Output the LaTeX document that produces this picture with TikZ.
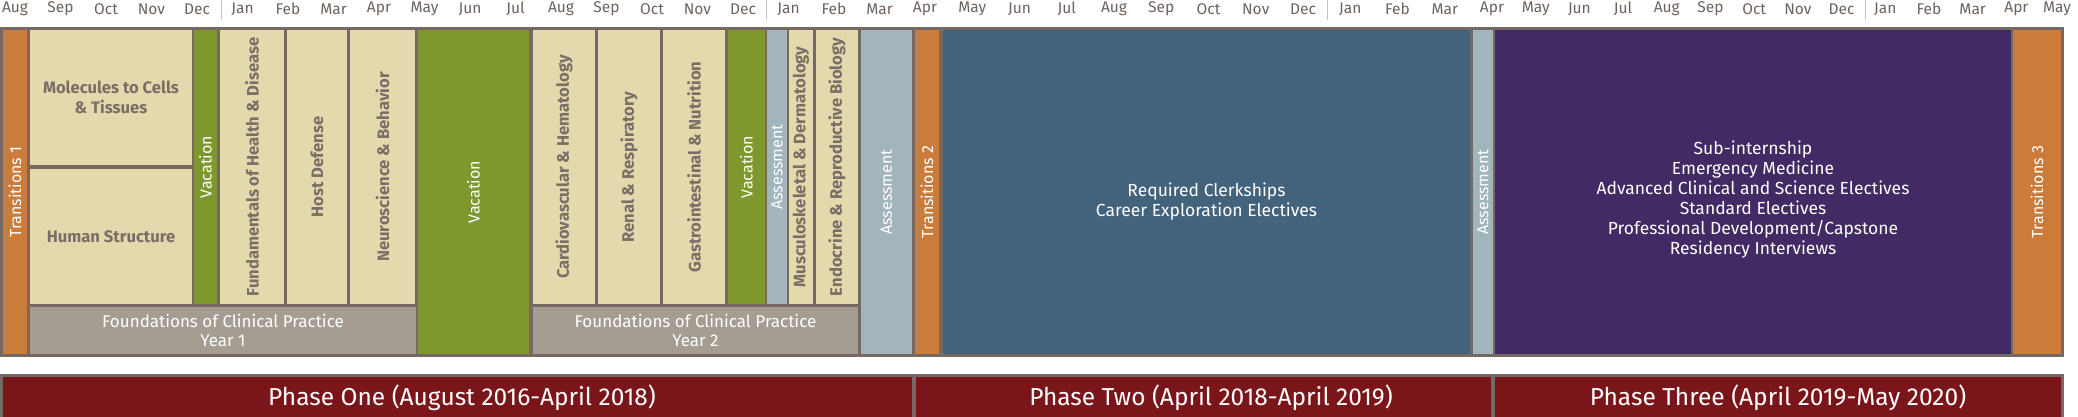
\documentclass[tikz,border=0pt]{standalone}
\usepackage{fontspec}
\setmainfont{Fira Sans}
\definecolor{framec}{HTML}{766862}
\definecolor{orangec}{HTML}{CC7C3A}
\definecolor{beigec}{HTML}{E2D9AC}
\definecolor{greenc}{HTML}{7E982E}
\definecolor{fgrey}{HTML}{A59D92}
\definecolor{assessc}{HTML}{A2B5BD}
\definecolor{bluec}{HTML}{43637C}
\definecolor{purplec}{HTML}{422A64}
\definecolor{redc}{HTML}{7A161A}
\definecolor{btext}{HTML}{7A6E66}
\definecolor{mgray}{HTML}{6E625C}
\definecolor{divc}{HTML}{C8C2BC}
\begin{document}
\begin{tikzpicture}[x=1pt,y=1pt,
  blk/.style={rectangle, inner sep=0pt, outer sep=0pt, align=center},
  vblk/.style={blk, rotate=90},
  btxt/.style={text=btext, font=\fontsize{16.6}{19.5}\selectfont\bfseries},
  wtxt/.style={text=white, font=\fontsize{16}{19}\selectfont},
  ftxt/.style={text=white, font=\fontsize{17}{19}\selectfont},
  wbig/.style={text=white, font=\fontsize{17.5}{20}\selectfont},
  phtxt/.style={text=white, font=\fontsize{24.5}{26}\selectfont},
  month/.style={text=mgray, font=\fontsize{15.5}{15.5}\selectfont, inner sep=0pt},
  divline/.style={draw=divc, line width=1pt}
]
\useasboundingbox (0,0) rectangle (2078,417);

% month labels
\foreach \m [count=\i from 0] in {Aug,Sep,Oct,Nov,Dec,Jan,Feb,Mar,Apr,May,Jun,Jul,Aug,Sep,Oct,Nov,Dec,Jan,Feb,Mar,Apr}
  {\node[month] (ma\i) at ({15+45.5*\i},408) {\m};}
\foreach \m [count=\i from 1] in {May,Jun,Jul,Aug,Sep,Oct,Nov,Dec,Jan,Feb,Mar,Apr}
  {\node[month] (mb\i) at ({925+47.25*\i},408) {\m};}
\foreach \m [count=\i from 1] in {May,Jun,Jul,Aug,Sep,Oct,Nov,Dec,Jan,Feb,Mar,Apr}
  {\node[month] (mc\i) at ({1492+43.7*\i},408) {\m};}
\node[month] (mc13) at (2057,408) {May};
\foreach \x in {221,766,1327,1865} {\draw[divline] (\x,397) -- (\x,417);}

% frame
\node[blk, fill=framec, minimum width=2064, minimum height=330] (frame) at (1032,225) {};

% Phase one blocks
\node[vblk, fill=orangec, minimum width=324, minimum height=24, wtxt] (t1) at (15,225) {Transitions 1};
\node[blk, fill=beigec, minimum width=162, minimum height=135, btxt] (mol) at (111,319.5) {Molecules to Cells\\\& Tissues};
\node[blk, fill=beigec, minimum width=162, minimum height=135, btxt] (hum) at (111,180.5) {Human Structure};
\node[vblk, fill=greenc, minimum width=274, minimum height=23, wtxt] (vac1) at (205.5,250) {Vacation};
\node[vblk, fill=beigec, minimum width=274, minimum height=64, btxt] (fund) at (252,250) {Fundamentals of Health \& Disease};
\node[vblk, fill=beigec, minimum width=274, minimum height=60, btxt] (host) at (317,250) {Host Defense};
\node[vblk, fill=beigec, minimum width=274, minimum height=65, btxt] (neuro) at (382.5,250) {Neuroscience \& Behavior};
\node[blk, fill=fgrey, minimum width=386, minimum height=47, ftxt] (fcp1) at (223,86.5) {Foundations of Clinical Practice\\Year 1};
\node[vblk, fill=greenc, minimum width=324, minimum height=111, wtxt] (vac2) at (473.5,225) {Vacation};
\node[vblk, fill=beigec, minimum width=274, minimum height=62, btxt] (cardio) at (564,250) {Cardiovascular \& Hematology};
\node[vblk, fill=beigec, minimum width=274, minimum height=62, btxt] (renal) at (629,250) {Renal \& Respiratory};
\node[vblk, fill=beigec, minimum width=274, minimum height=62, btxt] (gastro) at (694,250) {Gastrointestinal \& Nutrition};
\node[vblk, fill=greenc, minimum width=274, minimum height=37, wtxt] (vac3) at (746.5,250) {Vacation};
\node[vblk, fill=assessc, minimum width=274, minimum height=20, wtxt] (as1) at (777,250) {Assessment};
\node[vblk, fill=beigec, minimum width=274, minimum height=24, btxt] (musc) at (801,250) {Musculoskeletal \& Dermatology};
\node[vblk, fill=beigec, minimum width=274, minimum height=42, btxt] (endo) at (837,250) {Endocrine \& Reproductive Biology};
\node[blk, fill=fgrey, minimum width=325, minimum height=47, ftxt] (fcp2) at (695.5,86.5) {Foundations of Clinical Practice\\Year 2};
\node[vblk, fill=assessc, minimum width=324, minimum height=51, wtxt] (as2) at (886.5,225) {Assessment};
\node[vblk, fill=orangec, minimum width=324, minimum height=24, wtxt] (t2) at (927,225) {Transitions 2};

% Phase two / three
\node[blk, fill=bluec, minimum width=527, minimum height=324] (blue) at (1206.5,225) {};
\node[blk, wbig] (bluetxt) at (1206.5,215) {Required Clerkships\\Career Exploration Electives};
\node[vblk, fill=assessc, minimum width=324, minimum height=20, wtxt] (as3) at (1483,225) {Assessment};
\node[blk, fill=purplec, minimum width=516, minimum height=324] (purple) at (1753,225) {};
\node[blk, wbig] (purtxt) at (1753,217) {Sub-internship\\Emergency Medicine\\Advanced Clinical and Science Electives\\Standard Electives\\Professional Development/Capstone\\Residency Interviews};
\node[vblk, fill=orangec, minimum width=324, minimum height=48, wtxt] (t3) at (2037,225) {Transitions 3};

% phase bar
\node[blk, fill=framec, minimum width=2064, minimum height=43] (pframe) at (1032,21.5) {};
\node[blk, fill=redc, minimum width=909, minimum height=40] (p1) at (457.5,20) {};
\node[blk, fill=redc, minimum width=575, minimum height=40] (p2) at (1203.5,20) {};
\node[blk, fill=redc, minimum width=566, minimum height=40] (p3) at (1778,20) {};
\node[blk, phtxt] (p1t) at (462,19) {Phase One (August 2016-April 2018)};
\node[blk, phtxt] (p2t) at (1211,19) {Phase Two (April 2018-April 2019)};
\node[blk, phtxt] (p3t) at (1778,19) {Phase Three (April 2019-May 2020)};
\end{tikzpicture}
\end{document}
